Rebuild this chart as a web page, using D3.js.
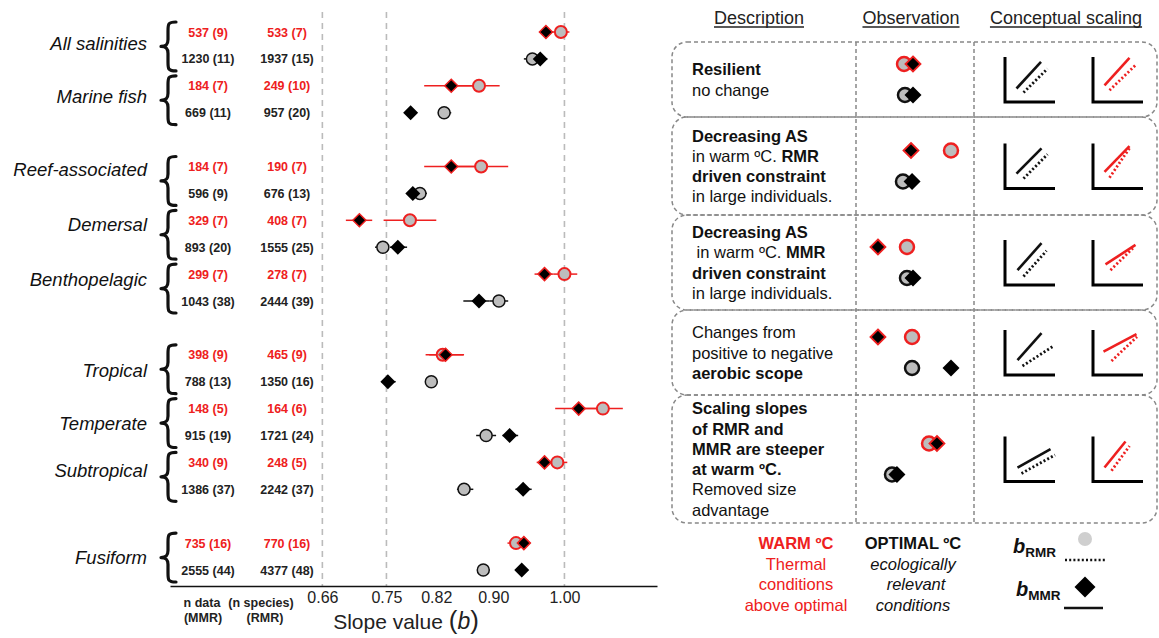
<!DOCTYPE html>
<html>
<head>
<meta charset="utf-8">
<script src="https://cdn.jsdelivr.net/npm/d3@7"></script>
<style>
  body { margin: 0; background: #fff; }
  svg { font-family: "Liberation Sans", Arial, Helvetica, sans-serif; }
  text { white-space: pre; }
</style>
</head>
<body>
<svg id="chart" width="1159" height="638"></svg>
<script>
// ---------- data ----------
var groups = ["All salinities", "Marine fish", "Reef-associated", "Demersal", "Benthopelagic",
              "Tropical", "Temperate", "Subtropical", "Fusiform"];
// row slot of the warm row of each group (optimal row is slot + 1), gaps between blocks
var groupSlot = [0, 2, 5, 7, 9, 12, 14, 16, 19];

// n data (n species)
var warmMMRn = ["537 (9)", "184 (7)", "184 (7)", "329 (7)", "299 (7)", "398 (9)", "148 (5)", "340 (9)", "735 (16)"];
var warmRMRn = ["533 (7)", "249 (10)", "190 (7)", "408 (7)", "278 (7)", "465 (9)", "164 (6)", "248 (5)", "770 (16)"];
var optMMRn  = ["1230 (11)", "669 (11)", "596 (9)", "893 (20)", "1043 (38)", "788 (13)", "915 (19)", "1386 (37)", "2555 (44)"];
var optRMRn  = ["1937 (15)", "957 (20)", "676 (13)", "1555 (25)", "2444 (39)", "1350 (16)", "1721 (24)", "2242 (37)", "4377 (48)"];

// slope b, lower, upper
var warmMMR = [[0.974, 0.965, 0.984], [0.841, 0.803, 0.880], [0.841, 0.803, 0.880], [0.712, 0.693, 0.730],
               [0.972, 0.958, 0.985], [0.833, 0.805, 0.858], [1.020, 0.987, 1.050], [0.972, 0.961, 0.985],
               [0.943, 0.930, 0.952]];
var warmRMR = [[0.995, 0.983, 1.007], [0.880, 0.845, 0.909], [0.883, 0.840, 0.921], [0.783, 0.746, 0.820],
               [1.000, 0.985, 1.018], [0.829, 0.810, 0.859], [1.054, 1.020, 1.082], [0.990, 0.978, 1.004],
               [0.932, 0.920, 0.945]];
var optMMR  = [[0.966, 0.958, 0.976], [0.784, 0.778, 0.790], [0.787, 0.781, 0.794], [0.766, 0.755, 0.779],
               [0.880, 0.858, 0.895], [0.752, 0.743, 0.763], [0.923, 0.913, 0.935], [0.942, 0.931, 0.954],
               [0.940, 0.935, 0.945]];
var optRMR  = [[0.955, 0.943, 0.962], [0.831, 0.823, 0.841], [0.797, 0.790, 0.807], [0.745, 0.734, 0.752],
               [0.908, 0.895, 0.921], [0.813, 0.808, 0.818], [0.890, 0.876, 0.904], [0.859, 0.849, 0.872],
               [0.886, 0.881, 0.891]];

var tickValues = [0.66, 0.75, 0.82, 0.90, 1.00];
var refLines = [0.66, 0.75, 1.00];

// right panel: descriptions, [text, bold] runs per line
var descLines = [
  [[["Resilient", true]], [["no change", false]]],
  [[["Decreasing AS", true]], [["in warm ºC. ", false], ["RMR", true]], [["driven constraint", true]], [["in large individuals.", false]]],
  [[["Decreasing AS", true]], [[" in warm ºC. ", false], ["MMR", true]], [["driven constraint", true]], [["in large individuals.", false]]],
  [[["Changes from", false]], [["positive to negative", false]], [["aerobic scope", true]]],
  [[["Scaling slopes", true]], [["of RMR and", true]], [["MMR are steeper", true]], [["at warm ºC.", true]], [["Removed size", false]], [["advantage", false]]]
];
// observation icons: relative slope position within the column (0-1)
var obsWarmRMR = [0.407, 0.805, 0.432, 0.475, 0.619];
var obsWarmMMR = [0.483, 0.466, 0.186, 0.186, 0.686];
var obsOptRMR  = [0.415, 0.398, 0.432, 0.475, 0.305];
var obsOptMMR  = [0.483, 0.475, 0.483, 0.805, 0.347];
// conceptual scaling lines, [x1, y1, x2, y2] in unit axes
var conceptOptMMR  = [[0.23, 0.30, 0.72, 0.89], [0.23, 0.33, 0.73, 0.89], [0.25, 0.33, 0.73, 0.93], [0.25, 0.33, 0.73, 0.93], [0.25, 0.31, 0.91, 0.72]];
var conceptOptRMR  = [[0.37, 0.21, 0.85, 0.74], [0.37, 0.22, 0.85, 0.76], [0.37, 0.19, 0.83, 0.76], [0.35, 0.20, 0.95, 0.63], [0.33, 0.18, 1.00, 0.59]];
var conceptWarmMMR = [[0.23, 0.37, 0.73, 0.98], [0.23, 0.37, 0.73, 0.94], [0.25, 0.46, 0.85, 0.89], [0.21, 0.52, 0.87, 0.91], [0.23, 0.31, 0.65, 0.89]];
var conceptWarmRMR = [[0.33, 0.26, 0.87, 0.84], [0.33, 0.24, 0.75, 0.93], [0.35, 0.33, 0.80, 0.82], [0.37, 0.31, 0.88, 0.85], [0.37, 0.24, 0.73, 0.79]];

// ---------- setup ----------
var svg = d3.select("#chart");
var red = "#ee2020", grey = "#bdbdbd", ink = "#111";

var x = d3.scaleLinear().domain([0.446, 1.13]).range([170, 657]);
var slotY = d3.scaleLinear().domain([0, 20]).range([32, 570]);
var axisY = 586;
// small vertical nudges of the group labels, as placed in the original
var labelDy = [-3, -3.5, -11.5, -10, -9, 1.5, 0, -6, 0];

function diamond(half) {
  return "M0," + (-half) + "L" + half + ",0L0," + half + "L" + (-half) + ",0Z";
}

// reference dashed lines
svg.append("g").selectAll("line").data(refLines).enter().append("line")
  .attr("x1", function(d) { return x(d); }).attr("x2", function(d) { return x(d); })
  .attr("y1", 12).attr("y2", axisY)
  .attr("stroke", "#bbb").attr("stroke-width", 1.6).attr("stroke-dasharray", "6,5");

// axis
var axis = svg.append("g").attr("transform", "translate(0," + axisY + ")")
  .call(d3.axisBottom(x).tickValues(tickValues).tickFormat(d3.format(".2f")).tickSize(0).tickSizeOuter(0).tickPadding(6));
axis.attr("font-family", null).attr("font-size", 16);
axis.select(".domain").attr("stroke", ink).attr("stroke-width", 1.5);
axis.selectAll(".tick text").attr("fill", "#222");

var xl = svg.append("text").attr("x", 406).attr("y", 629).attr("text-anchor", "middle")
  .attr("font-size", 21).attr("fill", "#222");
xl.append("tspan").text("Slope value ");
xl.append("tspan").attr("font-size", 26).attr("font-weight", 300).text("(");
xl.append("tspan").attr("font-style", "italic").attr("font-size", 23).text("b");
xl.append("tspan").attr("font-size", 26).attr("font-weight", 300).text(")");

// bottom column headers
var hdr = svg.append("g").attr("font-size", 12.5).attr("font-weight", "bold").attr("fill", "#222").attr("text-anchor", "middle");
hdr.append("text").attr("x", 202).attr("y", 607).text("n data");
hdr.append("text").attr("x", 261).attr("y", 607).text("(n species)");
hdr.append("text").attr("x", 203).attr("y", 622).text("(MMR)");
hdr.append("text").attr("x", 265).attr("y", 622).text("(RMR)");

// rows
var rows = [];
groups.forEach(function(g, i) {
  rows.push({ slot: groupSlot[i], warm: true, mmr: warmMMR[i], rmr: warmRMR[i], nM: warmMMRn[i], nR: warmRMRn[i] });
  rows.push({ slot: groupSlot[i] + 1, warm: false, mmr: optMMR[i], rmr: optRMR[i], nM: optMMRn[i], nR: optRMRn[i] });
});

// group labels and braces
var gl = svg.append("g");
groups.forEach(function(g, i) {
  var t = slotY(groupSlot[i]) - 10, b = slotY(groupSlot[i] + 1) + 12, m = (t + b) / 2;
  gl.append("text").attr("x", 147).attr("y", m + labelDy[i] + 6.5).attr("text-anchor", "end")
    .attr("font-size", 18.5).attr("font-style", "italic").attr("fill", ink).text(g);
  var xs = 168, xt = 161, xe = 176;
  var p = "M" + xe + "," + t + " C" + xs + "," + t + " " + xs + "," + (t + 2) + " " + xs + "," + (t + 9) +
          " L" + xs + "," + (m - 7) + " C" + xs + "," + (m - 2) + " " + (xs - 2) + "," + m + " " + xt + "," + m +
          " C" + (xs - 2) + "," + m + " " + xs + "," + (m + 2) + " " + xs + "," + (m + 7) +
          " L" + xs + "," + (b - 9) + " C" + xs + "," + (b - 2) + " " + xs + "," + b + " " + xe + "," + b;
  gl.append("path").attr("d", p).attr("fill", "none").attr("stroke", ink).attr("stroke-width", 3.2)
    .attr("stroke-linecap", "round").attr("stroke-linejoin", "round");
});

// n labels
var nl = svg.append("g").attr("font-size", 12.5).attr("font-weight", "bold").attr("text-anchor", "middle");
nl.selectAll("text.m").data(rows).enter().append("text")
  .attr("x", 208).attr("y", function(d) { return slotY(d.slot) + 4.5; })
  .attr("fill", function(d) { return d.warm ? red : "#222"; })
  .text(function(d) { return d.nM; });
nl.selectAll("text.r").data(rows).enter().append("text")
  .attr("x", 287).attr("y", function(d) { return slotY(d.slot) + 4.5; })
  .attr("fill", function(d) { return d.warm ? red : "#222"; })
  .text(function(d) { return d.nR; });

// error bars
var eb = svg.append("g");
["rmr", "mmr"].forEach(function(k) {
  eb.selectAll("line." + k).data(rows).enter().append("line")
    .attr("x1", function(d) { return x(d[k][1]); }).attr("x2", function(d) { return x(d[k][2]); })
    .attr("y1", function(d) { return slotY(d.slot); }).attr("y2", function(d) { return slotY(d.slot); })
    .attr("stroke", function(d) { return d.warm ? red : ink; }).attr("stroke-width", 1.5);
});

// RMR circles
svg.append("g").selectAll("circle").data(rows).enter().append("circle")
  .attr("cx", function(d) { return x(d.rmr[0]); }).attr("cy", function(d) { return slotY(d.slot); })
  .attr("r", 6).attr("fill", grey)
  .attr("stroke", function(d) { return d.warm ? red : ink; })
  .attr("stroke-width", function(d) { return d.warm ? 2 : 1.5; });

// MMR diamonds
svg.append("g").selectAll("path").data(rows).enter().append("path")
  .attr("d", function(d) { return diamond(d.warm ? 6.5 : 7.5); })
  .attr("transform", function(d) { return "translate(" + x(d.mmr[0]) + "," + slotY(d.slot) + ")"; })
  .attr("fill", "#000")
  .attr("stroke", function(d) { return d.warm ? red : "none"; })
  .attr("stroke-width", 1.5);

// ---------- right panel ----------
var boxEdges = [42, 117, 215, 310, 395, 523];
var panelL = 672, panelR = 1157, colA = 856, colB = 974;
var rp = svg.append("g");

// headers
[["Description", 759], ["Observation", 911], ["Conceptual scaling", 1066]].forEach(function(h) {
  var t = rp.append("text").attr("x", h[1]).attr("y", 24).attr("text-anchor", "middle")
    .attr("font-size", 18).attr("fill", "#222").text(h[0]);
  var w = t.node().getComputedTextLength();
  rp.append("line").attr("x1", h[1] - w / 2).attr("x2", h[1] + w / 2).attr("y1", 27).attr("y2", 27)
    .attr("stroke", "#222").attr("stroke-width", 1.3);
});

// boxes
for (var i = 0; i < 5; i++) {
  rp.append("rect").attr("x", panelL).attr("y", boxEdges[i]).attr("width", panelR - panelL)
    .attr("height", boxEdges[i + 1] - boxEdges[i]).attr("rx", 15).attr("ry", 15)
    .attr("fill", "none").attr("stroke", "#888").attr("stroke-width", 1.5).attr("stroke-dasharray", "4,3");
}
[colA, colB].forEach(function(cx) {
  rp.append("line").attr("x1", cx).attr("x2", cx).attr("y1", boxEdges[0]).attr("y2", boxEdges[5])
    .attr("stroke", "#888").attr("stroke-width", 1.5).attr("stroke-dasharray", "4,3");
});

var obsX = d3.scaleLinear().domain([0, 1]).range([colA, colB]);
var unitX = d3.scaleLinear().domain([0, 1]).range([0, 50]);
var unitY = d3.scaleLinear().domain([0, 1]).range([0, -45]);

descLines.forEach(function(lines, i) {
  var top = boxEdges[i], bot = boxEdges[i + 1], mid = (top + bot) / 2;
  var lh = 20.3;
  var y0 = mid - (lines.length - 1) * lh / 2;
  var t = rp.append("text").attr("font-size", 16.5).attr("fill", ink);
  lines.forEach(function(runs, j) {
    runs.forEach(function(r, k) {
      var ts = t.append("tspan").text(r[0]).attr("font-weight", r[1] ? "bold" : "normal");
      if (k === 0) ts.attr("x", 692).attr("y", y0 + j * lh + 6);
    });
  });

  // observation icons
  var yW = mid - 15.5, yO = mid + 15.5;
  var og = rp.append("g");
  og.append("circle").attr("cx", obsX(obsWarmRMR[i])).attr("cy", yW).attr("r", 7)
    .attr("fill", grey).attr("stroke", red).attr("stroke-width", 2.5);
  og.append("path").attr("d", diamond(7.5)).attr("transform", "translate(" + obsX(obsWarmMMR[i]) + "," + yW + ")")
    .attr("fill", "#000").attr("stroke", red).attr("stroke-width", 1.8);
  og.append("circle").attr("cx", obsX(obsOptRMR[i])).attr("cy", yO).attr("r", 7)
    .attr("fill", grey).attr("stroke", ink).attr("stroke-width", 2.5);
  og.append("path").attr("d", diamond(8.5)).attr("transform", "translate(" + obsX(obsOptMMR[i]) + "," + yO + ")")
    .attr("fill", "#000");

  // conceptual scaling mini charts
  var oy = mid + 22.5;
  [[1005, conceptOptMMR[i], conceptOptRMR[i], ink], [1093, conceptWarmMMR[i], conceptWarmRMR[i], red]].forEach(function(c) {
    var mg = rp.append("g").attr("transform", "translate(" + c[0] + "," + oy + ")");
    mg.append("path").attr("d", "M0," + unitY(1) + "V0H" + unitX(1))
      .attr("fill", "none").attr("stroke", "#000").attr("stroke-width", 3);
    mg.append("line").attr("x1", unitX(c[1][0])).attr("y1", unitY(c[1][1]))
      .attr("x2", unitX(c[1][2])).attr("y2", unitY(c[1][3]))
      .attr("stroke", c[3]).attr("stroke-width", 2.6);
    mg.append("line").attr("x1", unitX(c[2][0])).attr("y1", unitY(c[2][1]))
      .attr("x2", unitX(c[2][2])).attr("y2", unitY(c[2][3]))
      .attr("stroke", c[3]).attr("stroke-width", 2.8).attr("stroke-dasharray", "2,2.2");
  });
});

// legend below
var lg = rp.append("g").attr("font-size", 16.5).attr("text-anchor", "middle");
lg.append("text").attr("x", 796).attr("y", 549).attr("fill", red).attr("font-weight", "bold").text("WARM ºC");
["Thermal", "conditions", "above optimal"].forEach(function(s, j) {
  lg.append("text").attr("x", 796).attr("y", 569.5 + j * 20.5).attr("fill", red).text(s);
});
lg.append("text").attr("x", 913).attr("y", 549).attr("fill", ink).attr("font-weight", "bold").text("OPTIMAL ºC");
[["ecologically", 913], ["relevant", 916], ["conditions", 913]].forEach(function(s, j) {
  lg.append("text").attr("x", s[1]).attr("y", 569.5 + j * 20.5).attr("fill", ink).attr("font-style", "italic").text(s[0]);
});

var bR = rp.append("text").attr("x", 1013).attr("y", 553).attr("fill", ink).attr("font-weight", "bold");
bR.append("tspan").attr("font-size", 20).attr("font-style", "italic").text("b");
bR.append("tspan").attr("font-size", 13.5).attr("dy", 4).text("RMR");
var bM = rp.append("text").attr("x", 1016).attr("y", 596).attr("fill", ink).attr("font-weight", "bold");
bM.append("tspan").attr("font-size", 20).attr("font-style", "italic").text("b");
bM.append("tspan").attr("font-size", 13.5).attr("dy", 4).text("MMR");

rp.append("circle").attr("cx", 1085).attr("cy", 539).attr("r", 7).attr("fill", "#cfcfcf");
rp.append("line").attr("x1", 1065).attr("x2", 1105).attr("y1", 560).attr("y2", 560)
  .attr("stroke", ink).attr("stroke-width", 2.5).attr("stroke-dasharray", "2,2.2");
rp.append("path").attr("d", diamond(10.5)).attr("transform", "translate(1085,587)").attr("fill", "#000");
rp.append("line").attr("x1", 1064).attr("x2", 1103).attr("y1", 608).attr("y2", 608)
  .attr("stroke", ink).attr("stroke-width", 2.5);
</script>
</body>
</html>
